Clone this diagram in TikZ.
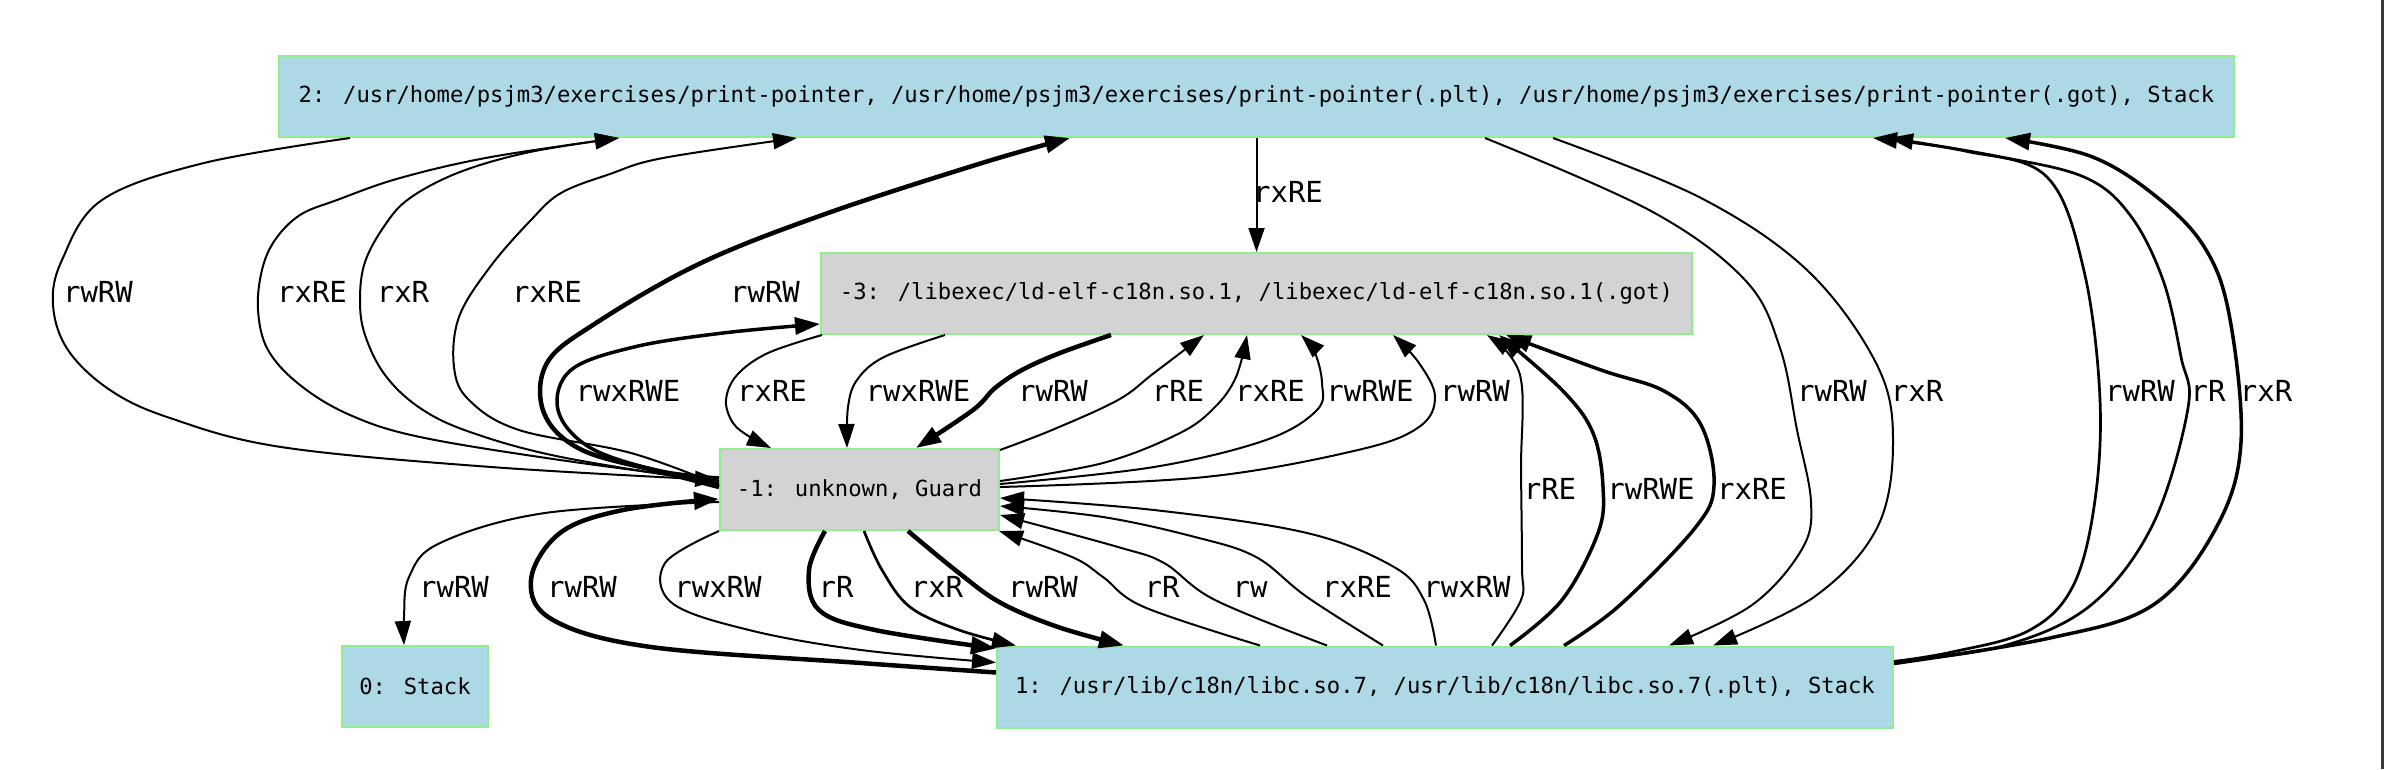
\documentclass[tikz,border=0pt]{standalone}
\usepackage{fontspec}
\newfontfamily\dvm{DejaVu Sans Mono}
\usetikzlibrary{arrows.meta,calc}
\definecolor{lblue}{HTML}{ADD8E6}
\definecolor{lgray}{HTML}{D3D3D3}
\definecolor{lgreen}{HTML}{90EE90}
\definecolor{edgebar}{HTML}{3A3A3C}
\tikzset{
  box/.style={rectangle, draw=lgreen, line width=2pt, inner sep=0pt,
    font=\dvm\fontsize{22.2}{26}\selectfont, minimum height=81pt},
  bluebox/.style={box, fill=lblue},
  graybox/.style={box, fill=lgray},
  lbl/.style={font=\dvm\fontsize{29}{34}\selectfont, inner sep=0pt,
    text height=21pt, text depth=0pt},
  conn/.style={line width=2pt, -{Triangle[length=24pt,width=16pt]}},
  connmid/.style={line width=2.7pt, -{Triangle[length=24pt,width=16pt]}},
  connbig/.style={line width=3.5pt, -{Triangle[length=25pt,width=17pt]}},
  connthk/.style={line width=4.5pt, -{Triangle[length=25pt,width=17pt]}},
  sm/.style={smooth, tension=0.6}
}
\begin{document}
\begin{tikzpicture}[x=1pt,y=-1pt]
\useasboundingbox (0,0) rectangle (2384,769);
\fill[white] (0,0) rectangle (2384,769);
\fill[edgebar] (2381,0) rectangle (2384,769);

% nodes
\node[bluebox, minimum width=1955pt] (n2) at (1256.5,96.5)
  {2: /usr/home/psjm3/exercises/print-pointer, /usr/home/psjm3/exercises/print-pointer(.plt), /usr/home/psjm3/exercises/print-pointer(.got), Stack};
\node[graybox, minimum width=871pt] (n3) at (1256.5,293.5)
  {-3: /libexec/ld-elf-c18n.so.1, /libexec/ld-elf-c18n.so.1(.got)};
\node[graybox, minimum width=279pt] (nm1) at (859.5,489.5) {-1: unknown, Guard};
\node[bluebox, minimum width=146pt] (n0) at (415,686.5) {0: Stack};
\node[bluebox, minimum width=896pt] (n1) at (1445,687)
  {1: /usr/lib/c18n/libc.so.7, /usr/lib/c18n/libc.so.7(.plt), Stack};

% 2 <-> -1 (left)
\draw[conn] plot[sm] coordinates {($(n2.south west)+(72,0)$) (204,163) (102,200) (62,260) (53,305) (68,350) (110,390) (170,418) (281,447) (491,467) ($(nm1.north west)+(0,32)$)};
\draw[conn] plot[sm] coordinates {($(nm1.north west)+(0,33)$) (560,460) (420,437) (350,415) (300,385) (268,350) (258,310) (262,270) (275,240) (300,215) (337,200) (400,178) (491,157) ($(n2.south west)+(341,0)$)};
\draw[conn] plot[sm] coordinates {($(nm1.north west)+(0,35)$) (561,457) (470,432) (420,408) (385,375) (365,335) (360,300) (365,262) (385,225) (410,198) (460,172) (530,152) ($(n2.south west)+(341,0)$)};
\draw[conn] plot[sm] coordinates {($(nm1.north west)+(0,37)$) (631,453) (519,430) (469,400) (454,367) (459,317) (490,267) (531,220) (561,193) (610,174) (663,158) ($(n2.south west)+(519,0)$)};
\draw[connthk] plot[sm] coordinates {($(nm1.north west)+(0,39)$) (666,473) (582,450) (544,413) (547,363) (596,323) (701,263) (828,213) (982,163) ($(n2.south west)+(792,0)$)};

% 2 -> -3
\draw[conn] (n2.south) -- (n3.north);

% -1 <-> -3
\draw[connbig] plot[sm] coordinates {($(nm1.north west)+(0,30)$) (656,470) (589,447) (558,410) (571,370) (634,347) (723,333) ($(n3.north west)+(0,72)$)};
\draw[conn] plot[sm] coordinates {($(n3.south west)+(2,0)$) (768,353) (737,375) (726,400) (733,423) (750,437) ($(nm1.north west)+(52,0)$)};
\draw[conn] plot[sm] coordinates {($(n3.south west)+(125,0)$) (884,357) (857,380) (848,407) ($(nm1.north west)+(128,0)$)};
\draw[connthk] plot[sm] coordinates {($(n3.south west)+(291,0)$) (1060,353) (1022,370) (995,388) (973,410) ($(nm1.north west)+(197,0)$)};
\draw[conn] plot[sm] coordinates {($(nm1.north east)+(0,2)$) (1052,430) (1118,400) (1154,373) ($(n3.south west)+(384,0)$)};
\draw[conn] plot[sm] coordinates {($(nm1.north east)+(0,33)$) (1103,463) (1180,433) (1215,407) (1236,377) ($(n3.south west)+(427,0)$)};
\draw[conn] plot[sm] coordinates {($(nm1.north east)+(0,36)$) (1154,467) (1266,440) (1317,410) (1322,383) (1315,353) ($(n3.south west)+(481,0)$)};
\draw[conn] plot[sm] coordinates {($(nm1.north east)+(0,39)$) (1205,477) (1358,450) (1419,427) (1435,397) (1419,363) ($(n3.south west)+(573,0)$)};

% 1 -> -1
\draw[conn] plot[sm] coordinates {($(n1.north west)+(440,0)$) (1424,600) (1394,567) (1307,533) (1154,510) ($(nm1.north east)+(0,50)$)};
\draw[conn] plot[sm] coordinates {($(n1.north west)+(387,0)$) (1307,597) (1256,557) (1195,537) (1103,517) ($(nm1.north east)+(0,58)$)};
\draw[conn] plot[sm] coordinates {($(n1.north west)+(331,0)$) (1215,600) (1164,563) (1118,547) ($(nm1.north east)+(0,67)$)};
\draw[conn] plot[sm] coordinates {($(n1.north west)+(264,0)$) (1144,607) (1103,577) (1072,557) ($(nm1.south east)+(-1,0)$)};

% -1 -> 1
\draw[connthk] plot[sm] coordinates {($(nm1.south west)+(189,0)$) (959,573) (1001,603) (1058,627) ($(n1.north west)+(128,0)$)};
\draw[connmid] plot[sm] coordinates {($(nm1.south west)+(145,0)$) (882,570) (910,607) (959,630) ($(n1.north west)+(20,0)$)};
\draw[connthk] plot[sm] coordinates {($(nm1.south west)+(106,0)$) (809,570) (819,610) (875,630) ($(n1.north west)+(0,3)$)};
\draw[conn] plot[sm] coordinates {(nm1.south west) (665,563) (672,603) (749,630) (861,650) ($(n1.north west)+(0,17)$)};
\draw[connthk] plot[sm] coordinates {($(n1.north west)+(0,27)$) (861,663) (651,647) (553,620) (531,580) (560,533) (623,510) ($(nm1.north west)+(0,51)$)};

% -1 -> 0
\draw[conn] plot[sm] coordinates {($(nm1.north west)+(0,54)$) (545,513) (440,543) (409,577) (404,617) ($(n0.north)+(-11,0)$)};

% 1 -> -3
\draw[conn] plot[sm] coordinates {($(n1.north west)+(496,0)$) (1521,600) (1522,567) (1521,470) (1520,375) ($(n3.south east)+(-206,0)$)};
\draw[connbig] plot[sm] coordinates {($(n1.north west)+(514,0)$) (1562,600) (1598,533) (1603,487) (1593,433) (1562,390) ($(n3.south east)+(-194,0)$)};
\draw[connbig] plot[sm] coordinates {($(n1.north west)+(568,0)$) (1620,605) (1695,528) (1714,485) (1701,425) (1664,391) (1601,370) ($(n3.south east)+(-187,0)$)};

% 2 -> 1
\draw[conn] plot[sm] coordinates {($(n2.south west)+(1207,0)$) (1651,211) (1745,280) (1780,348) (1797,430) (1811,502) (1802,549) (1752,605) ($(n1.north west)+(673,0)$)};
\draw[conn] plot[sm] coordinates {($(n2.south west)+(1275,0)$) (1701,198) (1808,271) (1877,365) (1893,442) (1877,528) (1814,597) ($(n1.north west)+(717,0)$)};

% 1 -> 2 (right)
\draw[connmid] plot[sm] coordinates {($(n1.north east)+(0,16)$) (1952,652) (2028,631) (2072,588) (2094,507) (2100,400) (2084,271) (2047,177) (1965,151) ($(n2.south west)+(1595,0)$)};
\draw[connmid] plot[sm] coordinates {($(n1.north east)+(0,16)$) (2003,646) (2091,605) (2153,524) (2188,408) (2181,357) (2163,280) (2130,215) (2084,177) (1996,156) ($(n2.south west)+(1611,0)$)};
\draw[connbig] plot[sm] coordinates {($(n1.north east)+(0,18)$) (2050,638) (2153,605) (2216,528) (2241,442) (2229,314) (2203,245) (2153,194) (2090,156) ($(n2.south west)+(1727,0)$)};

% labels
\node[lbl] (l1) at (98,292) {rwRW};
\node[lbl] (l2) at (312,292) {rxRE};
\node[lbl] (l3) at (403,292) {rxR};
\node[lbl] (l4) at (547,292) {rxRE};
\node[lbl] (l5) at (765,292) {rwRW};
\node[lbl] (l32) at (1288,192) {rxRE};
\node[lbl] (l6) at (628,391) {rwxRWE};
\node[lbl] (l7) at (772,391) {rxRE};
\node[lbl] (l8) at (918,391) {rwxRWE};
\node[lbl] (l9) at (1053,391) {rwRW};
\node[lbl] (l10) at (1178,391) {rRE};
\node[lbl] (l11) at (1270,391) {rxRE};
\node[lbl] (l12) at (1370,391) {rwRWE};
\node[lbl] (l13) at (1475,391) {rwRW};
\node[lbl] (l27) at (1832,391) {rwRW};
\node[lbl] (l28) at (1917,391) {rxR};
\node[lbl] (l29) at (2140,391) {rwRW};
\node[lbl] (l30) at (2208,391) {rR};
\node[lbl] (l31) at (2266,391) {rxR};
\node[lbl] (l24) at (1550,489) {rRE};
\node[lbl] (l25) at (1651,489) {rwRWE};
\node[lbl] (l26) at (1752,489) {rxRE};
\node[lbl] (l23) at (454,587) {rwRW};
\node[lbl] (l22) at (582,587) {rwRW};
\node[lbl] (l21) at (718,587) {rwxRW};
\node[lbl] (l20) at (836,587) {rR};
\node[lbl] (l19) at (937,587) {rxR};
\node[lbl] (l18) at (1043,587) {rwRW};
\node[lbl] (l17) at (1162,587) {rR};
\node[lbl] (l16) at (1250,587) {rw};
\node[lbl] (l15) at (1357,587) {rxRE};
\node[lbl] (l14) at (1467,587) {rwxRW};
\end{tikzpicture}
\end{document}
